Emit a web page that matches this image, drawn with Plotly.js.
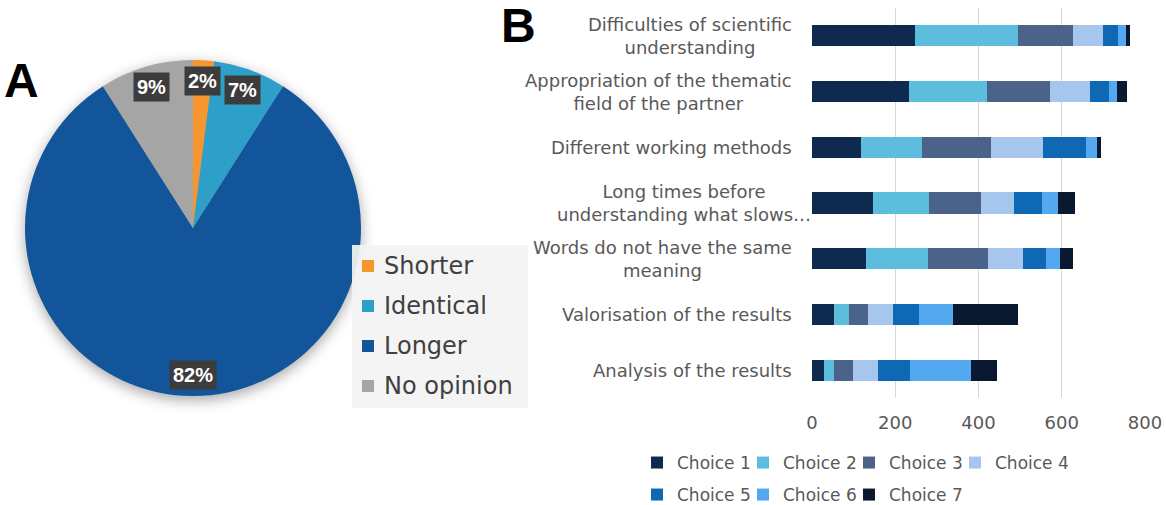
<!DOCTYPE html>
<html><head><meta charset="utf-8">
<script src="https://cdn.plot.ly/plotly-3.0.1.min.js"></script>
<style>
html,body{margin:0;padding:0;background:#fff;}
#chart{width:1166px;height:505px;}
.pielayer{filter:drop-shadow(0px 4px 7px rgba(0,0,0,0.35));}
.scrollbox{clip-path:none !important;}
</style></head><body><div id="chart"></div>
<script>
// ---- Panel A data ----
const pieLabels = ['Shorter', 'Identical', 'Longer', 'No opinion'];
const pieValues = [2, 7, 82, 9];
const pieColors = ['#F7962E', '#2E9FC9', '#12559B', '#A5A5A5'];

// ---- Panel B data ----
const categories = [
  'Difficulties of scientific<br>understanding',
  'Appropriation of the thematic<br>field of the partner',
  'Different working methods',
  'Long times before<br>understanding what slows…',
  'Words do not have the same<br>meaning',
  'Valorisation of the results',
  'Analysis of the results'
];
const choiceNames = ['Choice 1', 'Choice 2', 'Choice 3', 'Choice 4', 'Choice 5', 'Choice 6', 'Choice 7'];
const choice1 = [248, 232, 118, 147, 130, 52, 30];
const choice2 = [246, 189, 147, 135, 148, 38, 23];
const choice3 = [132, 150, 165, 123, 145, 44, 46];
const choice4 = [74, 98, 126, 81, 85, 60, 60];
const choice5 = [36, 45, 102, 67, 54, 64, 77];
const choice6 = [18, 18, 26, 38, 33, 81, 145];
const choice7 = [10, 24, 10, 42, 31, 157, 63];
const choiceColors = ['#0E2A4E', '#5CBEDC', '#4B6388', '#A7C6EE', '#0F68B4', '#54A8EF', '#0A1830'];
const xTicks = [0, 200, 400, 600, 800];

// ---- layout helpers (pixel -> paper) ----
const W = 1166, H = 505;
const px = x => x / W;
const py = y => 1 - y / H;
const TXT = 'DejaVu Sans, Liberation Sans, Arial, sans-serif';
const BOLD = 'Liberation Sans, Arial, sans-serif';

const pieCx = 193, pieCy = 228, pieR = 168;

const traces = [];
traces.push({
  type: 'pie',
  labels: pieLabels,
  values: pieValues,
  marker: {colors: pieColors, line: {width: 0}},
  sort: false,
  direction: 'clockwise',
  rotation: 0,
  textinfo: 'none',
  hoverinfo: 'label+percent',
  domain: {x: [px(pieCx - pieR), px(pieCx + pieR)], y: [py(pieCy + pieR), py(pieCy - pieR)]},
  showlegend: false
});

const series = [choice1, choice2, choice3, choice4, choice5, choice6, choice7];
series.forEach((vals, i) => {
  traces.push({
    type: 'bar',
    orientation: 'h',
    name: choiceNames[i],
    x: vals,
    y: categories,
    marker: {color: choiceColors[i], line: {width: 0}},
    xaxis: 'x', yaxis: 'y',
    legend: i < 4 ? 'legend2' : 'legend3'
  });
});

const annotations = [];
const shapes = [];
// panel letters
annotations.push({text: '<b>A</b>', x: px(21), y: py(80), xref: 'paper', yref: 'paper', showarrow: false,
  xanchor: 'center', yanchor: 'middle', font: {size: 48, color: '#000', family: BOLD}});
annotations.push({text: '<b>B</b>', x: px(518), y: py(25), xref: 'paper', yref: 'paper', showarrow: false,
  xanchor: 'center', yanchor: 'middle', font: {size: 48, color: '#000', family: BOLD}});

// pie percentage labels placed at slice mid-angle
const total = pieValues.reduce((a, b) => a + b, 0);
let cum = 0;
pieValues.forEach(v => {
  const mid = (cum + v / 2) / total * 2 * Math.PI;
  cum += v;
  const r = pieR * 0.875;
  const lx = pieCx + r * Math.sin(mid);
  const ly = pieCy - r * Math.cos(mid);
  annotations.push({
    text: '<b>' + Math.round(v / total * 100) + '%</b>',
    x: px(lx), y: py(ly), xref: 'paper', yref: 'paper', showarrow: false,
    xanchor: 'center', yanchor: 'middle',
    bgcolor: '#3C3C3C', borderpad: 3,
    font: {size: 20, color: '#fff', family: BOLD}
  });
});

// pie legend (box + swatches + labels)
shapes.push({type: 'rect', xref: 'paper', yref: 'paper', x0: px(352), x1: px(528), y0: py(408), y1: py(245),
  fillcolor: 'rgba(243,243,243,0.93)', line: {width: 0}, layer: 'above'});
pieLabels.forEach((lab, i) => {
  const cy = 266 + i * 40;
  shapes.push({type: 'rect', xref: 'paper', yref: 'paper', x0: px(362), x1: px(374), y0: py(cy + 6), y1: py(cy - 6),
    fillcolor: pieColors[i], line: {width: 0}, layer: 'above'});
  annotations.push({text: lab, x: px(382), y: py(cy), xref: 'paper', yref: 'paper', xanchor: 'left', yanchor: 'middle',
    showarrow: false, font: {size: 24, color: '#404040', family: TXT}});
});

// category labels (centered multi-line, right anchored)
categories.forEach(c => {
  const truncated = c.endsWith('…');
  annotations.push({
    text: c, x: px(truncated ? 813 : 794), y: c, xref: 'paper', yref: 'y',
    xanchor: 'right', yanchor: 'middle', align: 'center', showarrow: false,
    font: {size: 18, color: '#595959', family: TXT}
  });
});

const barLegend = (y) => ({
  orientation: 'h',
  x: px(637), y: py(y), xanchor: 'left', yanchor: 'top',
  bgcolor: 'rgba(0,0,0,0)',
  font: {size: 17, color: '#595959', family: TXT},
  itemwidth: 30,
  entrywidth: 61, entrywidthmode: 'pixels',
  traceorder: 'normal'
});

const layout = {
  width: W, height: H,
  margin: {l: 0, r: 0, t: 0, b: 0, autoexpand: false},
  paper_bgcolor: '#fff', plot_bgcolor: '#fff',
  font: {family: TXT, color: '#595959'},
  barmode: 'stack',
  bargap: 0.62,
  xaxis: {
    domain: [px(812), px(1145)],
    range: [0, 800],
    tickvals: xTicks,
    ticktext: xTicks.map(String),
    showgrid: true, gridcolor: '#D9D9D9', gridwidth: 1,
    zeroline: false, showline: false, ticks: '',
    ticklabelstandoff: 12,
    tickfont: {size: 18, color: '#595959', family: TXT},
    automargin: false,
    anchor: 'y'
  },
  yaxis: {
    domain: [py(398), py(8)],
    autorange: 'reversed',
    type: 'category',
    showticklabels: false, showgrid: false, zeroline: false, showline: false, ticks: '',
    automargin: false,
    anchor: 'x'
  },
  legend2: barLegend(445),
  legend3: barLegend(477),
  annotations: annotations,
  shapes: shapes,
  showlegend: true
};

Plotly.newPlot('chart', traces, layout, {displayModeBar: false, staticPlot: true});
</script>
</body></html>
